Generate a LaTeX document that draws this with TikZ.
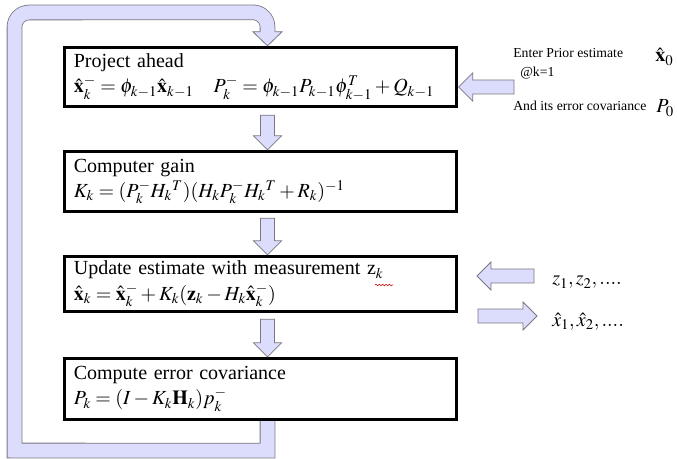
\documentclass[tikz,border=0pt]{standalone}
\usepackage{mathptmx}
\usepackage{fontspec}
\setmainfont{Liberation Serif}
\usetikzlibrary{calc,decorations.pathmorphing}

\definecolor{arrowfill}{RGB}{220,220,252}
\definecolor{arrowline}{RGB}{120,120,130}

\tikzset{
  stepbox/.style={draw, fill=white, line width=2.5pt, minimum width=294pt,
    text width=280pt, align=left, inner xsep=7pt,
    font=\fontsize{15}{19}\selectfont},
  blockarrow/.style={draw=arrowline, fill=arrowfill, line width=0.6pt},
  feedback/.style={draw=arrowline, line width=0.6pt, double=arrowfill,
    double distance=10.5pt},
  note/.style={anchor=base west, inner sep=0pt, font=\fontsize{10.3}{12}\selectfont},
  sym/.style={anchor=base west, inner sep=0pt, font=\fontsize{15}{18}\selectfont},
  spell/.style={red!80!black, line width=0.4pt, decorate,
    decoration={snake, amplitude=0.6pt, segment length=2.5pt}}
}

% block arrow from #1 (tail) to #2 (tip)
\newcommand\fatarrow[2]{%
  \draw[blockarrow] ($(#1)!5.25pt!90:(#2)$)
    -- ($(#2)!10.5pt!(#1)!5.25pt!90:(#2)$)
    -- ($(#2)!10.5pt!(#1)!10.5pt!90:(#2)$)
    -- (#2)
    -- ($(#2)!10.5pt!(#1)!10.5pt!-90:(#2)$)
    -- ($(#2)!10.5pt!(#1)!5.25pt!-90:(#2)$)
    -- ($(#1)!5.25pt!-90:(#2)$) -- cycle;}

\begin{document}
\begin{tikzpicture}[x=0.75pt, y=-0.75pt]
  \useasboundingbox (0,0) rectangle (677,459);

  % the four steps
  \node[stepbox, minimum height=44.25pt] (proj) at (260.5,77)
    {Project ahead\\
     $\hat{\mathbf{x}}_k^- = \phi_{k-1}\hat{\mathbf{x}}_{k-1} \quad
      P_k^- = \phi_{k-1}P_{k-1}\phi_{k-1}^T + Q_{k-1}$};
  \node[stepbox, minimum height=45pt] (gain) at (260.5,181.5)
    {Computer gain\\
     $K_k = (P_k^- H_k{}^T)(H_k P_k^- H_k{}^T + R_k)^{-1}$};
  \node[stepbox, minimum height=41.25pt] (upd) at (260.5,284)
    {Update estimate with measurement z$_k$\\
     $\hat{\mathbf{x}}_k = \hat{\mathbf{x}}_k^- + K_k(\mathbf{z}_k - H_k\hat{\mathbf{x}}_k^-)$};
  \node[stepbox, minimum height=45.75pt] (cov) at (260.5,389)
    {Compute error covariance\\
     $P_k = (I - K_k\mathbf{H}_k)p_k^-$};
  \draw[spell] (375,285) -- (393,285);

  % arrows between the steps
  \coordinate (a1) at ($(proj.south)+(7,7)$);
  \coordinate (b1) at ($(gain.north)+(7,0)$);
  \fatarrow{a1}{b1}
  \coordinate (a2) at ($(gain.south)+(7,5)$);
  \coordinate (b2) at ($(upd.north)+(7,0)$);
  \fatarrow{a2}{b2}
  \coordinate (a3) at ($(upd.south)+(7,6)$);
  \coordinate (b3) at ($(cov.north)+(7,0)$);
  \fatarrow{a3}{b3}

  % feedback loop
  \coordinate (fbs) at ($(cov.south)+(7,0)$);
  \coordinate (fbt) at ($(proj.north)+(7,0)$);
  \draw[feedback] (fbs) -- ($(fbs)+(0,29.5)$) -- (14.5,450.5)
    [rounded corners=11pt] -- (14.5,12.5) -- ($(fbt)+(0,-33.5)$)
    [sharp corners] -- ($(fbt)+(0,-14)$);
  \fill[arrowfill] ($(fbt)+(-14.5,-14.5)$) -- (fbt) -- ($(fbt)+(14.5,-14.5)$) -- cycle;
  \draw[arrowline, line width=0.6pt] ($(fbt)+(-7,-14)$) -- ($(fbt)+(-14.5,-14)$)
    -- (fbt) -- ($(fbt)+(14.5,-14)$) -- ($(fbt)+(7,-14)$);

  % prior estimate
  \coordinate (prior) at (514,87);
  \coordinate (priortip) at ($(proj.east)+(0.5,10)$);
  \fatarrow{prior}{priortip}
  \node[note] (enter) at (513,58) {Enter Prior estimate};
  \node[note] (atk) at (520,77) {@k=1};
  \node[note] (andits) at (513,111) {And its error covariance};
  \node[sym] (x0) at (655,62) {$\hat{\mathbf{x}}_0$};
  \node[sym] (p0) at (656,113) {$P_0$};

  % measurements in, estimates out
  \coordinate (zin) at (534,276);
  \coordinate (zintip) at (477,276);
  \fatarrow{zin}{zintip}
  \coordinate (xout) at (478,316);
  \coordinate (xouttip) at (537,316);
  \fatarrow{xout}{xouttip}
  \node[sym] (zs) at (552,285) {$z_1, z_2,....$};
  \node[sym] (xs) at (552,326) {$\hat{x}_1, \hat{x}_2,....$};
\end{tikzpicture}
\end{document}
